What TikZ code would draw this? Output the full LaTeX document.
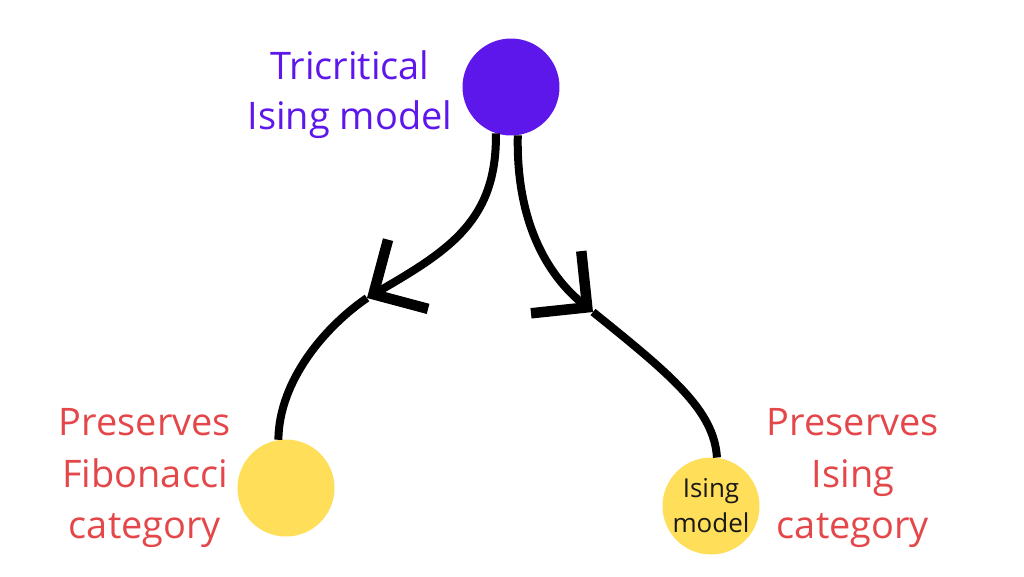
\documentclass[tikz,border=0pt]{standalone}
\usepackage{fontspec}
\setmainfont{Open Sans}
\usepackage{xcolor}
\usepackage{tikz}
\usetikzlibrary{arrows.meta}
\definecolor{tripurple}{HTML}{5E17EB}
\definecolor{dotyellow}{HTML}{FFDE59}
\definecolor{textred}{HTML}{E4474A}
\newcommand\dotsize{1.94cm}

\begin{document}
\begin{tikzpicture}[x=0.02cm,y=-0.02cm,
  dot/.style={circle,inner sep=0pt,minimum size=\dotsize},
  link/.style={line width=0.16cm},
  barb/.style={-{Straight Barb[length=0.8cm,width=1.6cm,line width=0.21cm]}},
  bigtext/.style={align=center,inner sep=0pt,font=\fontsize{21.6}{28.5}\selectfont}]
\useasboundingbox (0,0) rectangle (1024,576);

%circles
\node[dot,fill=tripurple] (tri) at (511,87) {};
\node[dot,fill=dotyellow] (fib) at (286,488) {};
\node[dot,fill=dotyellow,align=center,text=black!90,
  font=\fontsize{14.8}{19.9}\selectfont] (ising) at (711,506) {Ising\\model};

%labels
\node[bigtext,text=tripurple] (tritext) at (350,95) {Tricritical\\Ising model};
\node[bigtext,text=textred,font=\fontsize{21.6}{29.2}\selectfont] (fibtext) at (145,478) {Preserves\\Fibonacci\\category};
\node[bigtext,text=textred,font=\fontsize{21.6}{29.2}\selectfont] (isingtext) at (853,478) {Preserves\\Ising\\category};

%arrow heads
\coordinate (tipL) at (367,298);
\coordinate (tipR) at (593,312);

%left branch
\draw[link,barb] (tri.252) .. controls (497,220) and (450,250) .. (tipL);
\draw[link] (tipL) .. controls (326,326) and (279,380) .. (fib.99);
%right branch
\draw[link,barb] (tri.278) .. controls (516,220) and (546,274) .. (tipR);
\draw[link] (tipR) .. controls (671,375) and (714,410) .. (ising.83);

\end{tikzpicture}
\end{document}
